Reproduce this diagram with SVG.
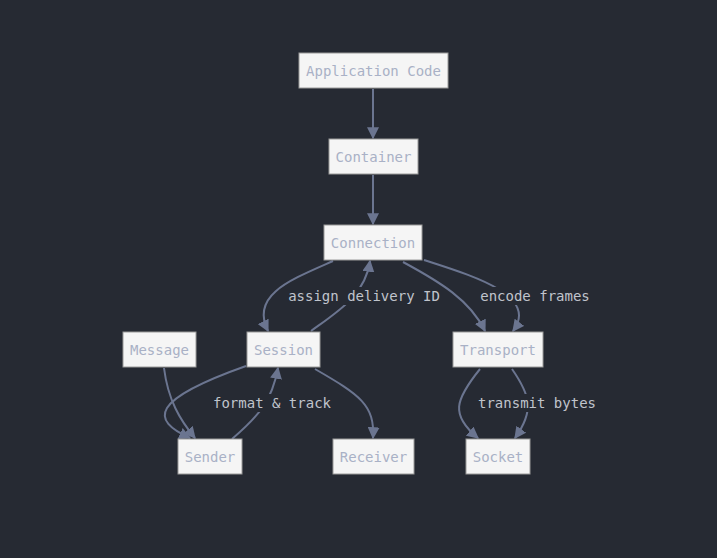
<svg xmlns="http://www.w3.org/2000/svg" width="717" height="558" viewBox="0 0 717 558">
<style>
.n rect{fill:#f5f5f5;stroke:#9a9a9a;stroke-width:1}
.n text,.l text{font-family:"DejaVu Sans Mono",monospace;font-size:14px;text-anchor:middle;dominant-baseline:central}
.n text{fill:#a9b1c6}
.l text{fill:#c0c4cc}
.l rect{fill:#262a33}
.e path{fill:none;stroke:#6b7590;stroke-width:2;marker-end:url(#a)}
</style>
<defs><marker id="a" viewBox="0 0 10 10" refX="9" refY="5" markerWidth="6" markerHeight="6" orient="auto"><path d="M0,0L10,5L0,10z" fill="#6b7590"/></marker></defs>
<rect width="717" height="558" fill="#262a33"/>
<g class="e">
<path d="M373,89V138"/>
<path d="M373,175V224"/>
<path d="M333,261C290,280 250,295 268,331"/>
<path d="M311,331C340,310 365,295 370,261"/>
<path d="M403,262C440,282 470,300 485,331"/>
<path d="M424,260C470,275 540,295 513,331"/>
<path d="M246,366C150,400 150,420 190,438"/>
<path d="M164,368C168,400 180,420 195,438"/>
<path d="M232,439C260,415 272,400 278,368"/>
<path d="M315,369C360,395 375,405 373,438"/>
<path d="M480,369C455,400 450,415 478,438"/>
<path d="M512,369C530,395 535,410 515,438"/>
</g>
<g class="l">
<rect x="288" y="287" width="152" height="18"/><text x="364" y="296">assign delivery ID</text>
<rect x="480" y="287" width="110" height="18"/><text x="535" y="296">encode frames</text>
<rect x="213" y="394" width="118" height="18"/><text x="272" y="403">format &amp; track</text>
<rect x="478" y="394" width="118" height="18"/><text x="537" y="403">transmit bytes</text>
</g>
<g id="app" class="n"><rect x="299" y="53" width="149" height="35"/><text x="373.5" y="70.5">Application Code</text></g>
<g id="container" class="n"><rect x="329" y="139" width="89" height="35"/><text x="373.5" y="156.5">Container</text></g>
<g id="connection" class="n"><rect x="324" y="225" width="98" height="35"/><text x="373" y="242.5">Connection</text></g>
<g id="message" class="n"><rect x="123" y="332" width="73" height="35"/><text x="159.5" y="349.5">Message</text></g>
<g id="session" class="n"><rect x="247" y="332" width="73" height="35"/><text x="283.5" y="349.5">Session</text></g>
<g id="transport" class="n"><rect x="453" y="332" width="90" height="35"/><text x="498" y="349.5">Transport</text></g>
<g id="sender" class="n"><rect x="178" y="439" width="64" height="35"/><text x="210" y="456.5">Sender</text></g>
<g id="receiver" class="n"><rect x="333" y="439" width="81" height="35"/><text x="373.5" y="456.5">Receiver</text></g>
<g id="socket" class="n"><rect x="466" y="439" width="64" height="35"/><text x="498" y="456.5">Socket</text></g>
</svg>
